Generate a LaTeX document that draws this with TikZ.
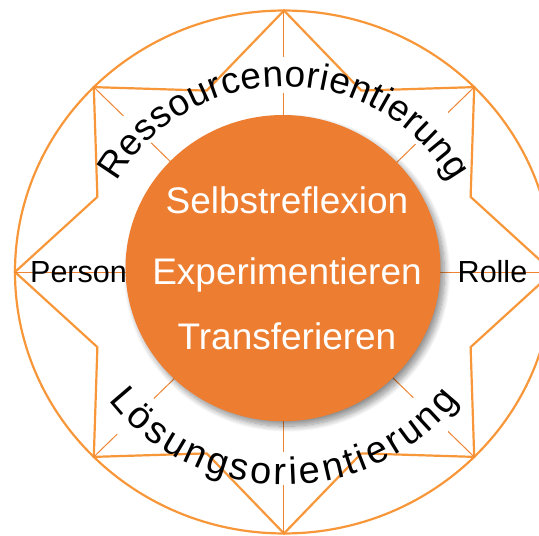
\documentclass[tikz,border=0pt]{standalone}
\usepackage{fontspec}
\setmainfont{Liberation Sans}
\usetikzlibrary{decorations.text,shadows.blur}
\definecolor{starline}{HTML}{F7973A}
\definecolor{rayline}{HTML}{EE8433}
\definecolor{core}{HTML}{ED7D31}

\begin{document}
\begin{tikzpicture}[x=1pt,y=1pt,
  outline/.style={draw=starline, line width=2.2pt, line join=miter},
  ray/.style={draw=rayline, line width=1pt},
  arctext/.style={decorate, decoration={text along path, text align=fit to path}},
  sidelabel/.style={anchor=base, inner sep=0pt, font=\fontsize{30.5}{36}\selectfont},
  corelabel/.style={anchor=base, inner sep=0pt, text=white, font=\fontsize{37}{44}\selectfont}]
\useasboundingbox (-284,-264) rectangle (255,272);

\begin{scope}[yscale=0.972]
  % outer ring
  \draw[outline] (0,0) circle[radius=269];
  % eight-pointed star
  \draw[outline] (0:269) -- (22.5:202) -- (45:269) -- (67.5:202) -- (90:269)
    -- (112.5:202) -- (135:269) -- (157.5:202) -- (180:269) -- (202.5:202)
    -- (225:269) -- (247.5:202) -- (270:269) -- (292.5:202) -- (315:269)
    -- (337.5:202) -- cycle;
  % rays from the star tips towards the core, broken where the arc texts run
  \foreach \a/\ro/\ri in {90/221/184, 135/227/188, 45/232/186,
                          225/236/184, 315/232/183, 270/219/185} {
    \draw[ray] (\a:269) -- (\a:\ro);
    \draw[ray] (\a:\ri) -- (\a:150);
  }
  \draw[ray] (0:269) -- (0:150);
  \draw[ray] (180:269) -- (180:150);
  % core disc
  \fill[core, blur shadow={shadow xshift=4pt, shadow yshift=-5pt,
        shadow blur radius=6pt, shadow blur steps=12, shadow opacity=45}]
    (-1,4) circle[radius=157.5];
  % arc texts
  \path[arctext, decoration={text={|\fontsize{37}{42}\selectfont|Ressourcenorientierung}}]
    (151:191) arc[start angle=151, end angle=29, radius=191];
  \path[arctext, decoration={text={|\fontsize{38}{42}\selectfont|Lösungsorientierung}}]
    (217:219) arc[start angle=217, end angle=323, radius=219];
\end{scope}

\node[sidelabel] (person) at (-205.5,-10) {Person};
\node[sidelabel] (rolle) at (208.5,-10) {Rolle};

\node[corelabel] (selbst) at (3,59) {Selbstreflexion};
\node[corelabel] (exp) at (3,-12) {Experimentieren};
\node[corelabel] (trans) at (3,-77) {Transferieren};
\end{tikzpicture}
\end{document}
